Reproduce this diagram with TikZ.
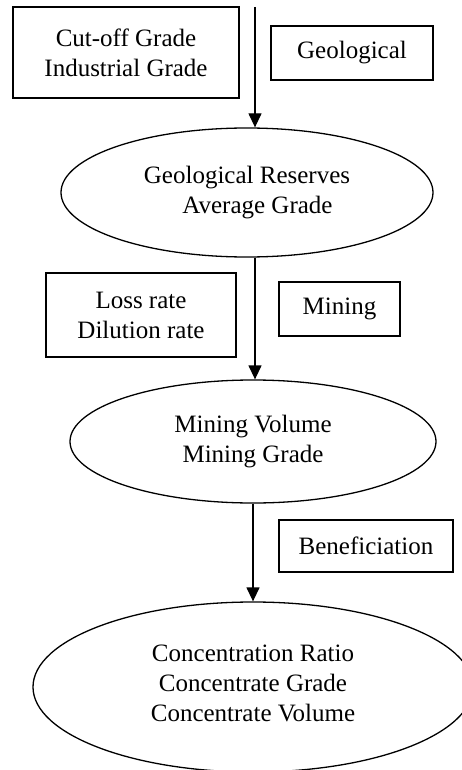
\documentclass[tikz,border=0pt]{standalone}
\usepackage{fontspec}
\setmainfont{Liberation Serif}
\usetikzlibrary{shapes.geometric,arrows.meta}
\begin{document}
\begin{tikzpicture}[x=1pt,y=-1pt,
  every node/.style={font=\fontsize{25}{30}\selectfont, align=center, inner sep=0pt},
  rbox/.style={draw, line width=1.3pt, rectangle},
  oval/.style={draw, line width=1.3pt, ellipse},
  arr/.style={line width=1.3pt, -{Triangle[length=14pt,width=13pt]}}]
\useasboundingbox (0,0) rectangle (462,770);
\clip (0,0) rectangle (462,770);
% boxes
\node[rbox, minimum width=226pt, minimum height=91pt] (cut) at (126,52.5) {Cut-off Grade\\Industrial Grade};
\node[rbox, minimum width=162pt, minimum height=54pt] (geo) at (352,53) {Geological};
\node[rbox, minimum width=190pt, minimum height=84pt] (loss) at (141,315) {Loss rate\\Dilution rate};
\node[rbox, minimum width=121pt, minimum height=54pt] (min) at (339.5,309) {Mining};
\node[rbox, minimum width=174pt, minimum height=52pt] (ben) at (366,546) {Beneficiation};
% ellipses
\node[oval, minimum width=372pt, minimum height=129pt] (e1) at (247,192.5) {Geological Reserves\\\hspace*{21pt}Average Grade};
\node[oval, minimum width=366pt, minimum height=123pt] (e2) at (253,441.5) {Mining Volume\\Mining Grade};
\node[oval, minimum width=440pt, minimum height=170pt, text depth=8pt] (e3) at (253,687) {Concentration Ratio\\Concentrate Grade\\Concentrate Volume};
% connectors
\coordinate (top) at (255,7);
\draw[arr] (top) -- (e1.north -| top);
\draw[arr] (e1.south -| top) -- (e2.north -| top);
\draw[arr] (e2.south) -- (e3.north);
\end{tikzpicture}
\end{document}
